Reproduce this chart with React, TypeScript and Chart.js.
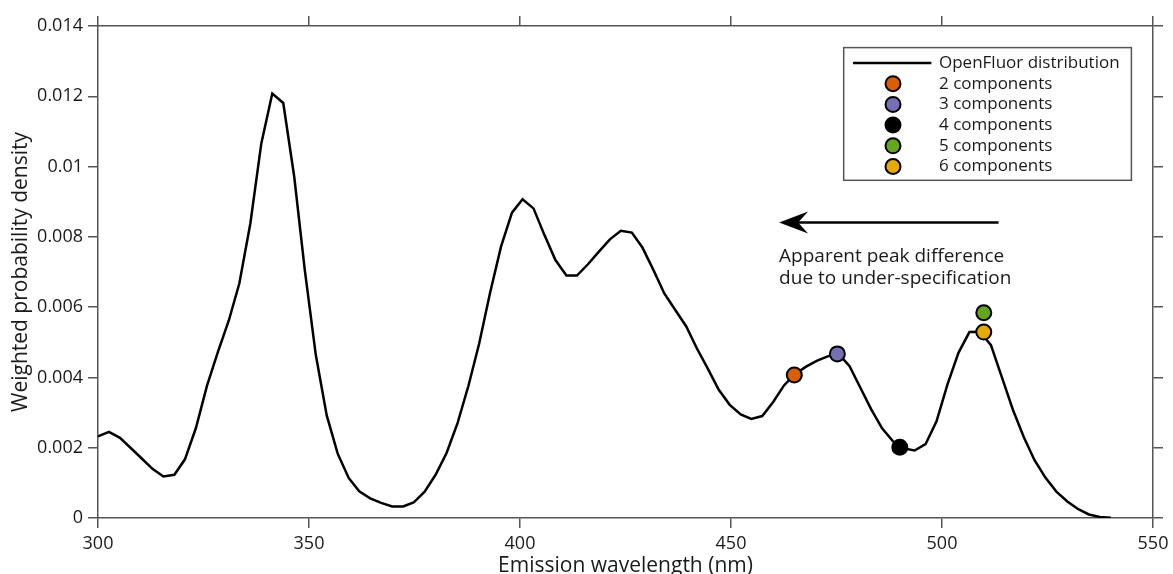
import React, { useEffect, useRef } from 'react';
import { Chart, registerables } from 'chart.js';

Chart.register(...registerables);

// ---------- data ----------
const wavelengths = [
  300.0, 302.6, 305.2, 307.7, 310.3, 312.9, 315.5, 318.1, 320.6, 323.2,
  325.8, 328.4, 331.0, 333.5, 336.1, 338.7, 341.3, 343.9, 346.5, 349.0,
  351.6, 354.2, 356.8, 359.4, 361.9, 364.5, 367.1, 369.7, 372.3, 374.8,
  377.4, 380.0, 382.6, 385.2, 387.8, 390.3, 392.9, 395.5, 398.1, 400.6,
  403.2, 405.8, 408.4, 411.0, 413.5, 416.1, 418.7, 421.3, 423.9, 426.5,
  429.0, 431.6, 434.2, 436.8, 439.4, 441.9, 444.5, 447.1, 449.7, 452.3,
  454.8, 457.4, 460.0, 462.6, 465.2, 467.7, 470.3, 472.9, 475.5, 478.1,
  480.6, 483.2, 485.8, 488.4, 491.0, 493.5, 496.1, 498.7, 501.3, 503.9,
  506.5, 509.0, 511.6, 514.2, 516.8, 519.4, 521.9, 524.5, 527.1, 529.7,
  532.3, 534.8, 537.4, 540.0,
];

const density = [
  0.00232, 0.00245, 0.00228, 0.00200, 0.00170, 0.00140, 0.00118, 0.00123, 0.00167, 0.00256,
  0.00375, 0.00472, 0.00562, 0.00668, 0.00838, 0.01066, 0.01208, 0.01181, 0.00971, 0.00706,
  0.00465, 0.00292, 0.00183, 0.00114, 0.00076, 0.00056, 0.00043, 0.00033, 0.00033, 0.00044,
  0.00075, 0.00123, 0.00185, 0.00270, 0.00377, 0.00495, 0.00640, 0.00772, 0.00869, 0.00907,
  0.00881, 0.00805, 0.00734, 0.00690, 0.00690, 0.00722, 0.00758, 0.00793, 0.00817, 0.00812,
  0.00770, 0.00706, 0.00639, 0.00592, 0.00545, 0.00483, 0.00425, 0.00365, 0.00322, 0.00295,
  0.00282, 0.00290, 0.00330, 0.00378, 0.00410, 0.00430, 0.00447, 0.00460, 0.00467, 0.00432,
  0.00372, 0.00310, 0.00255, 0.00218, 0.00198, 0.00192, 0.00210, 0.00275, 0.00380, 0.00470,
  0.00529, 0.00530, 0.00492, 0.00400, 0.00308, 0.00230, 0.00165, 0.00115, 0.00075, 0.00047,
  0.00025, 0.00010, 0.00003, 0.00001,
];

const curveLabel = 'OpenFluor distribution';
const componentLabels = ['2 components', '3 components', '4 components', '5 components', '6 components'];
const componentWavelengths = [465.0, 475.2, 490.0, 509.9, 509.9];
const componentDensity = [0.00407, 0.00467, 0.00201, 0.00584, 0.00529];
const componentColors = ['#d95f02', '#7570b3', '#000000', '#66a61e', '#e6ab02'];

const yTickLabels = ['0', '0.002', '0.004', '0.006', '0.008', '0.01', '0.012', '0.014'];
const xTitle = 'Emission wavelength (nm)';
const yTitle = 'Weighted probability density';

const annotationLines = ['Apparent peak difference', 'due to under-specification'];
const annotationDensity = [0.00745, 0.00680];
const arrowTipWavelength = 461.4;
const arrowTailWavelength = 513.4;
const arrowDensity = 0.00841;

// ---------- styles ----------
const FONT = "'Open Sans', 'DejaVu Sans', sans-serif";
const AXIS_COLOR = '#555555';
const TEXT_COLOR = '#1a1a1a';
const W = 1173;
const H = 574;

const overlayPlugin = {
  id: 'overlay',
  afterDatasetsDraw(chart: any) {
    const { ctx, chartArea, scales } = chart;
    const xs = scales.x;
    const ys = scales.y;
    ctx.save();

    // arrow
    const yA = ys.getPixelForValue(arrowDensity);
    const xTip = xs.getPixelForValue(arrowTipWavelength);
    const xTail = xs.getPixelForValue(arrowTailWavelength);
    ctx.strokeStyle = '#000';
    ctx.lineWidth = 2.5;
    ctx.beginPath();
    ctx.moveTo(xTip + 16, yA);
    ctx.lineTo(xTail, yA);
    ctx.stroke();
    ctx.fillStyle = '#000';
    ctx.beginPath();
    ctx.moveTo(xTip, yA);
    ctx.lineTo(xTip + 29, yA - 11);
    ctx.lineTo(xTip + 19, yA);
    ctx.lineTo(xTip + 29, yA + 11);
    ctx.closePath();
    ctx.fill();

    // annotation text
    ctx.font = `19px ${FONT}`;
    ctx.textAlign = 'left';
    ctx.textBaseline = 'middle';
    ctx.fillStyle = TEXT_COLOR;
    annotationLines.forEach((t, i) => {
      ctx.fillText(t, xTip, ys.getPixelForValue(annotationDensity[i]));
    });

    // legend
    const lx = chartArea.left + 745.7;
    const ly = chartArea.top + 21.6;
    const lw = 287.7;
    const lh = 132.7;
    ctx.fillStyle = '#ffffff';
    ctx.fillRect(lx, ly, lw, lh);
    ctx.strokeStyle = AXIS_COLOR;
    ctx.lineWidth = 1.5;
    ctx.strokeRect(lx, ly, lw, lh);

    const rowY = (i: number) => ly + 15.4 + i * 20.7;
    ctx.font = `17px ${FONT}`;
    ctx.fillStyle = TEXT_COLOR;
    ctx.textBaseline = 'middle';
    ctx.textAlign = 'left';
    ctx.strokeStyle = '#000';
    ctx.lineWidth = 2.5;
    ctx.beginPath();
    ctx.moveTo(lx + 9.3, rowY(0));
    ctx.lineTo(lx + 87.7, rowY(0));
    ctx.stroke();
    ctx.fillText(curveLabel, lx + 95.3, rowY(0));
    componentLabels.forEach((lab, i) => {
      const cy = rowY(i + 1);
      ctx.beginPath();
      ctx.arc(lx + 49.3, cy, 7.5, 0, Math.PI * 2);
      ctx.fillStyle = componentColors[i];
      ctx.fill();
      ctx.strokeStyle = '#000';
      ctx.lineWidth = 2;
      ctx.stroke();
      ctx.fillStyle = TEXT_COLOR;
      ctx.fillText(lab, lx + 95.3, cy);
    });

    ctx.restore();
  },
};

const gridOpts = {
  display: true,
  drawOnChartArea: false,
  drawTicks: true,
  tickLength: 10,
  color: AXIS_COLOR,
  lineWidth: 1.5,
};
const borderOpts = { display: true, color: AXIS_COLOR, width: 1.5 };

export default function App() {
  const canvasRef = useRef<HTMLCanvasElement | null>(null);

  useEffect(() => {
    const canvas = canvasRef.current;
    if (!canvas) return;

    const curvePoints = wavelengths.map((w, i) => ({ x: w, y: density[i] }));
    const markerSets = componentLabels.map((lab, i) => ({
      label: lab,
      data: [{ x: componentWavelengths[i], y: componentDensity[i] }],
      showLine: false,
      pointRadius: 7.5,
      pointBackgroundColor: componentColors[i],
      pointBorderColor: '#000',
      pointBorderWidth: 2,
      order: 0,
    }));

    const chart = new Chart(canvas, {
      type: 'scatter',
      data: {
        datasets: [
          {
            label: curveLabel,
            data: curvePoints,
            showLine: true,
            borderColor: '#000',
            borderWidth: 2.5,
            pointRadius: 0,
            tension: 0,
            order: 10,
          } as any,
          ...markerSets,
        ],
      },
      options: {
        responsive: false,
        animation: false,
        events: [],
        layout: { padding: 0 },
        plugins: {
          legend: { display: false },
          tooltip: { enabled: false },
        },
        scales: {
          x: {
            type: 'linear',
            position: 'bottom',
            min: 300,
            max: 550,
            ticks: {
              stepSize: 50,
              color: TEXT_COLOR,
              font: { family: FONT, size: 18 },
              padding: 5,
              maxRotation: 0,
              autoSkip: false,
            },
            grid: gridOpts,
            border: borderOpts,
            title: {
              display: true,
              text: xTitle,
              color: TEXT_COLOR,
              font: { family: FONT, size: 21 },
              padding: { top: 0, bottom: -5 },
            },
            afterFit: (s: any) => {
              s.height = 56;
              s.paddingLeft = 0;
              s.paddingRight = 0;
            },
          },
          xTop: {
            type: 'linear',
            position: 'top',
            min: 300,
            max: 550,
            ticks: { display: false, stepSize: 50 },
            grid: gridOpts,
            border: borderOpts,
            afterFit: (s: any) => {
              s.height = 26;
              s.paddingLeft = 0;
              s.paddingRight = 0;
            },
          },
          y: {
            type: 'linear',
            position: 'left',
            min: 0,
            max: 0.014,
            ticks: {
              stepSize: 0.002,
              color: TEXT_COLOR,
              font: { family: FONT, size: 18 },
              padding: 5,
              callback: (v: any) => yTickLabels[Math.round(Number(v) / 0.002)],
            },
            grid: gridOpts,
            border: borderOpts,
            title: {
              display: true,
              text: yTitle,
              color: TEXT_COLOR,
              font: { family: FONT, size: 21 },
              padding: { top: 8, bottom: 0 },
            },
            afterFit: (s: any) => {
              s.width = 98;
              s.paddingTop = 0;
              s.paddingBottom = 0;
            },
          },
          yRight: {
            type: 'linear',
            position: 'right',
            min: 0,
            max: 0.014,
            ticks: { display: false, stepSize: 0.002 },
            grid: gridOpts,
            border: borderOpts,
            afterFit: (s: any) => {
              s.width = 20;
              s.paddingTop = 0;
              s.paddingBottom = 0;
            },
          },
        },
      } as any,
      plugins: [overlayPlugin],
    });

    return () => chart.destroy();
  }, []);

  return (
    <div style={{ position: 'fixed', left: 0, top: 0, width: W, height: H, background: '#fff' }}>
      <canvas ref={canvasRef} width={W} height={H} style={{ display: 'block', width: W, height: H }} />
    </div>
  );
}
